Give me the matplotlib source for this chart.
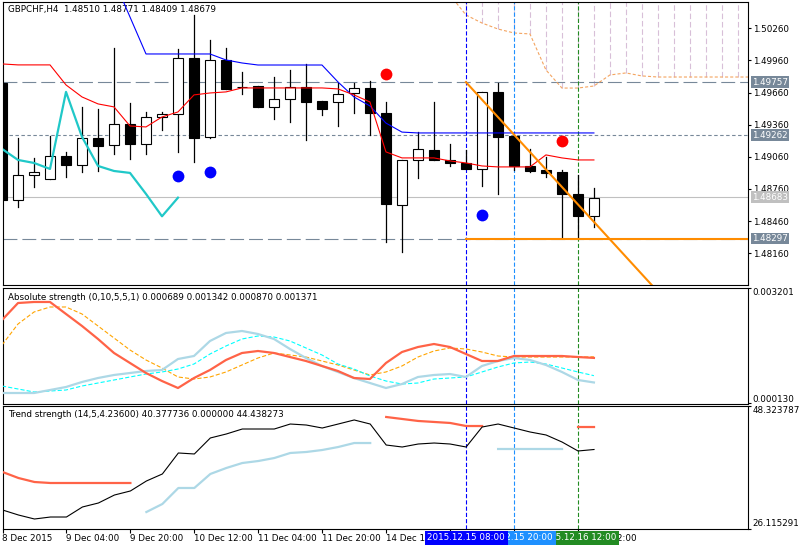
import numpy as np
import matplotlib
matplotlib.use('Agg')
import matplotlib.pyplot as plt

plt.rcParams['font.family'] = ['DejaVu Sans']
plt.rcParams['lines.scale_dashes'] = False

nan = np.nan
# ---------------- data ----------------
symbol_title = "GBPCHF,H4  1.48510 1.48771 1.48409 1.48679"
opens = [1.49750, 1.48658, 1.48891, 1.48854, 1.49068, 1.48984, 1.49236, 1.49171, 1.49367, 1.49180,
         1.49432, 1.49460, 1.49983, 1.49246, 1.49964, 1.49712, 1.49722, 1.49526, 1.49600, 1.49712,
         1.49582, 1.49572, 1.49656, 1.49703, 1.49470, 1.48611, 1.49031, 1.49124, 1.49031, 1.49003,
         1.48947, 1.49666, 1.49255, 1.48975, 1.48938, 1.48919, 1.48714, 1.48510]
highs = [1.49750, 1.49236, 1.49050, 1.49255, 1.49106, 1.49526, 1.49507, 1.50076, 1.49563, 1.49479,
         1.49479, 1.50067, 1.50384, 1.50151, 1.50076, 1.49852, 1.49722, 1.49805, 1.49871, 1.49927,
         1.49582, 1.49750, 1.49750, 1.49768, 1.49572, 1.49031, 1.49292, 1.49572, 1.49180, 1.49124,
         1.49666, 1.49750, 1.49255, 1.49134, 1.49059, 1.48938, 1.48891, 1.48771]
lows = [1.48658, 1.48593, 1.48779, 1.48854, 1.48872, 1.48919, 1.48928, 1.49087, 1.49040, 1.49087,
        1.49311, 1.49106, 1.49012, 1.49236, 1.49694, 1.49647, 1.49526, 1.49414, 1.49386, 1.49218,
        1.49451, 1.49349, 1.49470, 1.49264, 1.48266, 1.48173, 1.48863, 1.49031, 1.48975, 1.48947,
        1.48789, 1.48714, 1.48938, 1.48919, 1.48872, 1.48313, 1.48313, 1.48409]
closes = [1.48658, 1.48891, 1.48919, 1.49068, 1.48984, 1.49236, 1.49162, 1.49367, 1.49180, 1.49432,
          1.49460, 1.49983, 1.49236, 1.49964, 1.49694, 1.49712, 1.49526, 1.49600, 1.49712, 1.49572,
          1.49507, 1.49647, 1.49703, 1.49470, 1.48620, 1.49031, 1.49134, 1.49031, 1.49003, 1.48947,
          1.49666, 1.49246, 1.48975, 1.48928, 1.48910, 1.48714, 1.48505, 1.48679]

kijun = [nan, nan, nan, nan, nan, nan, nan, 1.50711, 1.50365, 1.50020,
         1.50020, 1.50020, 1.50020, 1.50020, 1.49964, 1.49936, 1.49917, 1.49917, 1.49917, 1.49917,
         1.49917, 1.49759, 1.49619, 1.49535, 1.49375, 1.49291, 1.49283, 1.49283, 1.49283, 1.49283,
         1.49283, 1.49283, 1.49283, 1.49283, 1.49283, 1.49283, 1.49283, 1.49283]
tenkan = [1.49927, 1.49918, 1.49918, 1.49918, 1.49731, 1.49619, 1.49554, 1.49526, 1.49348, 1.49339,
          1.49432, 1.49479, 1.49638, 1.49656, 1.49666, 1.49703, 1.49703, 1.49703, 1.49703, 1.49703,
          1.49703, 1.49694, 1.49638, 1.49572, 1.49106, 1.49050, 1.49050, 1.49050, 1.49022, 1.49003,
          1.48975, 1.48966, 1.48966, 1.48966, 1.49078, 1.49050, 1.49031, 1.49031]
chinkou_shift = 26
cloud_start = 28
cloud = [1.50571, 1.50384, 1.50309, 1.50253, 1.50216, 1.50207, 1.49871, 1.49702, 1.49702, 1.49721,
         1.49824, 1.49843, 1.49815, 1.49805, 1.49805, 1.49805, 1.49805, 1.49805, 1.49805, 1.49805]

price_ticks = [1.50260, 1.49960, 1.49660, 1.49360, 1.49060, 1.48760, 1.48460, 1.48160]
level_dashed = [1.49757, 1.48297]
level_dotted = [1.49262]
bid_price = 1.48683
support_price = 1.48297
trend_p1 = (29, 1.49757)
trend_p2 = (33, 1.49105)
red_sig_x = [24, 35]
red_sig_y = [1.49831, 1.49208]
blue_sig_x = [11, 13, 30]
blue_sig_y = [1.48882, 1.48919, 1.48518]

abs_title = "Absolute strength (0,10,5,5,1) 0.000689 0.001342 0.000870 0.001371"
abs_range = (0.000130, 0.003201)
abs_tomato = [0.002350, 0.002802, 0.002829, 0.002829, 0.002510, 0.002191, 0.001845, 0.001473, 0.001207, 0.000941,
              0.000728, 0.000542, 0.000808, 0.001021, 0.001287, 0.001473, 0.001526, 0.001473, 0.001366, 0.001260,
              0.001127, 0.000994, 0.000808, 0.000781, 0.001207, 0.001499, 0.001632, 0.001712, 0.001632, 0.001446,
              0.001260, 0.001260, 0.001393, 0.001393, 0.001393, 0.001393, 0.001366, 0.001342]
abs_orange = [0.001686, 0.002244, 0.002563, 0.002696, 0.002696, 0.002510, 0.002191, 0.001872, 0.001553, 0.001287,
              0.001074, 0.000835, 0.000781, 0.000835, 0.000968, 0.001154, 0.001340, 0.001473, 0.001420, 0.001366,
              0.001260, 0.001154, 0.001021, 0.000888, 0.000968, 0.001127, 0.001366, 0.001526, 0.001606, 0.001579,
              0.001499, 0.001393, 0.001366, 0.001366, 0.001366, 0.001366, 0.001366, 0.001371]
abs_lightblue = [0.000409, 0.000409, 0.000409, 0.000489, 0.000569, 0.000702, 0.000808, 0.000888, 0.000941, 0.000994,
                 0.001021, 0.001313, 0.001393, 0.001792, 0.002005, 0.002058, 0.001978, 0.001845, 0.001579, 0.001340,
                 0.001127, 0.000968, 0.000808, 0.000675, 0.000542, 0.000648, 0.000835, 0.000888, 0.000914, 0.000835,
                 0.001127, 0.001260, 0.001340, 0.001287, 0.001154, 0.000968, 0.000755, 0.000689]
abs_cyan = [0.000595, 0.000516, 0.000436, 0.000462, 0.000489, 0.000595, 0.000675, 0.000755, 0.000835, 0.000914,
            0.000968, 0.001047, 0.001180, 0.001446, 0.001659, 0.001845, 0.001925, 0.001898, 0.001792, 0.001606,
            0.001420, 0.001180, 0.001047, 0.000862, 0.000728, 0.000648, 0.000675, 0.000781, 0.000808, 0.000835,
            0.000968, 0.001101, 0.001207, 0.001233, 0.001180, 0.001074, 0.000968, 0.000870]

tr_title = "Trend strength (14,5,4.23600) 40.377736 0.000000 44.438273"
tr_range = (26.115291, 48.323787)
tr_black = [29.46, 28.55, 27.83, 28.19, 28.19, 30.00, 30.72, 32.16, 32.89, 34.69,
            35.96, 39.75, 39.57, 42.46, 43.18, 44.08, 44.08, 44.08, 44.98, 44.80,
            44.26, 44.98, 45.71, 44.98, 41.19, 40.83, 41.37, 41.55, 41.37, 40.83,
            44.44, 44.98, 44.26, 43.54, 43.00, 41.73, 40.11, 40.377736]
tr_tomato = [36.32, 35.23, 34.51, 34.33, 34.33, 34.33, 34.33, 34.33, 34.33, nan,
             nan, nan, nan, nan, nan, nan, nan, nan, nan, nan,
             nan, nan, nan, nan, 46.25, 45.89, 45.53, 45.35, 45.17, 44.62,
             44.62, nan, nan, nan, nan, nan, 44.44, 44.438273]
tr_lightblue = [nan, nan, nan, nan, nan, nan, nan, nan, nan, 29.09,
                30.54, 33.43, 33.43, 35.96, 37.04, 37.94, 38.30, 38.84, 39.75, 39.93,
                40.29, 40.83, 41.55, 41.55, nan, nan, nan, nan, nan, nan,
                nan, 40.47, 40.47, 40.47, 40.47, 40.47, nan, nan]

time_tick_idx = [0, 4, 8, 12, 16, 20, 24, 28, 32, 36]
time_label_idx = [0, 4, 8, 12, 16, 20, 24, 36]
time_tick_labels = ["8 Dec 2015", "9 Dec 04:00", "9 Dec 20:00", "10 Dec 12:00", "11 Dec 04:00",
                    "11 Dec 20:00", "14 Dec 12:00", "16 Dec 12:00"]
vline_idx = [29, 32, 36]
vline_labels = ["2015.12.15 08:00", "2015.12.15 20:00", "2015.12.16 12:00"]
vline_colors = ["#0000ff", "#1e90ff", "#228b22"]

# ---------------- layout ----------------
W, H = 800, 550
FS = 6.3
fig = plt.figure(figsize=(W / 100, H / 100), dpi=100)
fig.patch.set_facecolor('white')


def px_rect(x0, y0, x1, y1):
    return [x0 / W, 1 - y1 / H, (x1 - x0) / W, (y1 - y0) / H]


ax = fig.add_axes(px_rect(2.5, 2, 747.5, 285))
ax2 = fig.add_axes(px_rect(2.5, 288, 747.5, 403.5))
ax3 = fig.add_axes(px_rect(2.5, 405.5, 747.5, 528.5))
XLIM = (0.03, 46.6)
for a in (ax, ax2, ax3):
    a.set_xlim(*XLIM)
    a.set_facecolor('white')
    for s in a.spines.values():
        s.set_linewidth(0.8)
        s.set_color('black')
    a.yaxis.tick_right()
    a.tick_params(axis='y', direction='out', length=2.5, width=0.8, labelsize=FS, pad=1.2, colors='black')
    a.set_xticks([])

n = len(closes)
xs = np.arange(n)

# ---------------- main panel ----------------
ax.set_ylim(1.47864, 1.50505)
ax.set_yticks(price_ticks)
ax.set_yticklabels([f"{v:.5f}" for v in price_ticks])

# cloud hatch + boundary
cx = np.arange(cloud_start, cloud_start + len(cloud))
top = ax.get_ylim()[1]
for xi, cv in zip(cx, cloud):
    if xi >= 29:
        ax.plot([xi, xi], [cv, top + 0.01], color='#d8bfd8', lw=0.8, ls=(0, (4, 2)), zorder=1)
ax.plot(cx, cloud, color='#f4a460', lw=0.8, ls=(0, (2.2, 1.5)), zorder=2)

# level lines
lvl_col = '#778899'
for p in level_dashed:
    ax.axhline(p, color=lvl_col, lw=0.8, ls=(0, (10, 3.6)), zorder=1)
for p in level_dotted:
    ax.axhline(p, color=lvl_col, lw=0.8, ls=(0, (2.5, 1.8)), zorder=1)
ax.axhline(bid_price, color='#c0c0c0', lw=0.8, zorder=1)

# vertical lines
for a in (ax, ax2, ax3):
    for vi, vc in zip(vline_idx, vline_colors):
        a.axvline(vi, color=vc, lw=0.8, ls=(0, (3, 1.5)), zorder=2)

# candles
bw = 0.6
for i in range(n):
    o, h, l, c = opens[i], highs[i], lows[i], closes[i]
    ax.plot([i, i], [l, h], color='black', lw=0.9, zorder=3)
    fc = 'white' if c >= o else 'black'
    ax.bar(i, max(abs(c - o), 1e-7), bottom=min(o, c), width=bw, color=fc,
           edgecolor='black', linewidth=0.8, zorder=4)

# ichimoku lines
ax.plot(xs, kijun, color='#0000ff', lw=0.8, zorder=5)
ax.plot(xs, tenkan, color='#ff0000', lw=0.8, zorder=5)
chk = closes[chinkou_shift:]
ax.plot(np.arange(len(chk)), chk, color='#20c8c8', lw=1.6, zorder=5)

# orange support / trend line
ax.plot([trend_p1[0], XLIM[1] + 1], [support_price, support_price], color='#ff8c00', lw=1.5, zorder=6)
slope = (trend_p2[1] - trend_p1[1]) / (trend_p2[0] - trend_p1[0])
x_end = 48
ax.plot([trend_p1[0], x_end], [trend_p1[1], trend_p1[1] + slope * (x_end - trend_p1[0])],
        color='#ff8c00', lw=1.5, zorder=6)

# signal markers
ax.plot(red_sig_x, red_sig_y, 'o', color='#ff0000', ms=8.5, mew=0, zorder=7)
ax.plot(blue_sig_x, blue_sig_y, 'o', color='#0000ff', ms=8.5, mew=0, zorder=7)

# title
ax.text(6 / 745, 0.99, symbol_title, transform=ax.transAxes, fontsize=FS, va='top', ha='left', zorder=0)

# highlighted price labels
for p, fc in [(1.49757, '#778899'), (1.49262, '#778899'), (bid_price, '#c0c0c0'), (1.48297, '#778899')]:
    ax.annotate(f"{p:.5f}", xy=(1, p), xycoords=('axes fraction', 'data'), xytext=(3.3, 0),
                textcoords='offset points', ha='left', va='center', fontsize=FS, color='white',
                bbox=dict(boxstyle='square,pad=0.15', fc=fc, ec='none'), annotation_clip=False)

# ---------------- absolute strength ----------------
ax2.set_ylim(*abs_range)
ax2.plot(xs, abs_orange, color='#ffa500', lw=0.8, ls=(0, (3, 1.5)), zorder=3)
ax2.plot(xs, abs_cyan, color='#00ffff', lw=0.8, ls=(0, (3, 1.5)), zorder=3)
ax2.plot(xs, abs_lightblue, color='#add8e6', lw=1.6, zorder=4)
ax2.plot(xs, abs_tomato, color='#ff6347', lw=1.6, zorder=5)
ax2.set_yticks(list(abs_range))
ax2.set_yticklabels([f"{v:.6f}" for v in abs_range])
lbls = ax2.get_yticklabels()
lbls[0].set_va('bottom')
lbls[1].set_va('top')
ax2.text(6 / 745, 0.96, abs_title, transform=ax2.transAxes, fontsize=FS, va='top', ha='left')

# ---------------- trend strength ----------------
ax3.set_ylim(*tr_range)
ax3.plot(xs, tr_lightblue, color='#add8e6', lw=1.6, zorder=3)
ax3.plot(xs, tr_tomato, color='#ff6347', lw=1.6, zorder=4)
ax3.plot(xs, tr_black, color='black', lw=0.8, zorder=5)
ax3.set_yticks(list(tr_range))
ax3.set_yticklabels([f"{v:.6f}" for v in tr_range])
lbls = ax3.get_yticklabels()
lbls[0].set_va('bottom')
lbls[1].set_va('top')
ax3.text(6 / 745, 0.96, tr_title, transform=ax3.transAxes, fontsize=FS, va='top', ha='left')

# time axis
ax3.set_xticks(time_tick_idx)
ax3.set_xticklabels([])
ax3.tick_params(axis='x', direction='out', length=3, width=0.8)
for ti, tl in zip(time_label_idx, time_tick_labels):
    ax3.annotate(tl, xy=(ti, 0), xycoords=('data', 'axes fraction'), xytext=(0, -4),
                 textcoords='offset points', ha='left', va='top', fontsize=FS, zorder=1,
                 annotation_clip=False)
for k in [2, 1, 0]:
    ax3.annotate(vline_labels[k], xy=(vline_idx[k], 0), xycoords=('data', 'axes fraction'),
                 xytext=(0, -6.8), textcoords='offset points', ha='center', va='center',
                 fontsize=FS, color='white', zorder=10 - k,
                 bbox=dict(boxstyle='square,pad=0.3', fc=vline_colors[k], ec='none'),
                 annotation_clip=False)

fig.savefig('out.png', dpi=100, facecolor='white')
